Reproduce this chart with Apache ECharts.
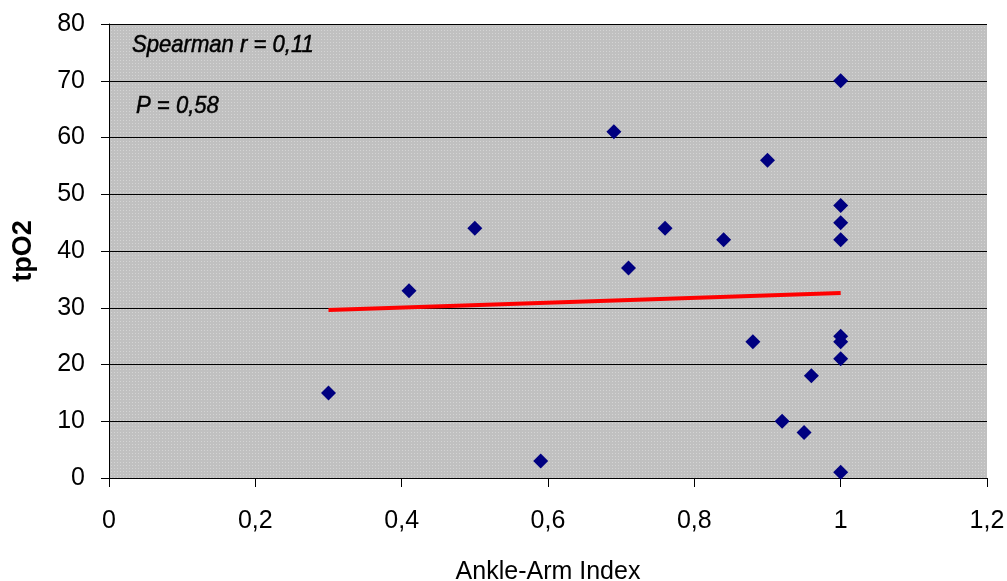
<!DOCTYPE html>
<html>
<head>
<meta charset="utf-8">
<script src="https://cdn.jsdelivr.net/npm/echarts@6/dist/echarts.min.js"></script>
<style>
  html, body { margin: 0; padding: 0; background: #fff; }
  #main { width: 1007px; height: 581px; }
</style>
</head>
<body>
<div id="main"></div>
<script>
// ankle-arm index vs tpO2
var aai = [0.3, 0.41, 0.5, 0.59, 0.69, 0.71, 0.76, 0.84, 0.88, 0.9, 0.92, 0.95, 0.96,
           1.0, 1.0, 1.0, 1.0, 1.0, 1.0, 1.0, 1.0];
var tpo2 = [15, 33, 44, 3, 61, 37, 44, 42, 24, 56, 10, 8, 18,
            70, 48, 45, 42, 25, 24, 21, 1];
// linear trend line end points
var trendX = [0.3, 1.0];
var trendY = [29.6, 32.6];

var points = aai.map(function (x, i) { return [x, tpo2[i]]; });
var trend = trendX.map(function (x, i) { return [x, trendY[i]]; });

// dotted excel-like background
var pat = document.createElement('canvas');
pat.width = 3; pat.height = 3;
var ctx = pat.getContext('2d');
ctx.fillStyle = '#c0c0c0';
ctx.fillRect(0, 0, 3, 3);
ctx.fillStyle = '#d4d4d4';
ctx.fillRect(0, 0, 1, 1);

var font = '"Liberation Sans", Arial, sans-serif';
var myChart = echarts.init(document.getElementById('main'));
myChart.setOption({
    animation: false,
    grid: {
        left: 109, right: 20, top: 24, bottom: 103,
        outerBoundsMode: 'none',
        containLabel: false,
        show: true,
        backgroundColor: { image: pat, repeat: 'repeat' },
        borderWidth: 0
    },
    xAxis: {
        type: 'value',
        min: 0, max: 1.2, interval: 0.2,
        name: 'Ankle-Arm Index',
        nameLocation: 'middle',
        nameGap: 82,
        nameTextStyle: { fontFamily: font, fontSize: 25, color: '#000' },
        axisLine: { show: true, lineStyle: { color: '#000', width: 1 } },
        axisTick: { show: true, inside: false, length: 9, lineStyle: { color: '#000' } },
        axisLabel: {
            margin: 31, fontFamily: font, fontSize: 25, color: '#000',
            formatter: function (v) { return String(+v.toFixed(1)).replace('.', ','); }
        },
        splitLine: { show: false }
    },
    yAxis: {
        type: 'value',
        min: 0, max: 80, interval: 10,
        name: 'tpO2',
        nameLocation: 'middle',
        nameGap: 72,
        nameTextStyle: { fontFamily: font, fontSize: 27, fontWeight: 'bold', color: '#000' },
        axisLine: { show: true, lineStyle: { color: '#000', width: 1 } },
        axisTick: { show: true, inside: false, length: 8, lineStyle: { color: '#000' } },
        axisLabel: { margin: 24, fontFamily: font, fontSize: 25, color: '#000' },
        splitLine: { show: true, lineStyle: { color: '#000', width: 1 } }
    },
    graphic: [
        { type: 'text', x: 132, y: 33, scaleX: 0.92,
          style: { text: 'Spearman r = 0,11', font: 'italic 24px ' + font, fill: '#000',
                   stroke: '#000', lineWidth: 0.5 } },
        { type: 'text', x: 136, y: 94, scaleX: 0.92,
          style: { text: 'P = 0,58', font: 'italic 24px ' + font, fill: '#000',
                   stroke: '#000', lineWidth: 0.5 } }
    ],
    series: [
        {
            type: 'line',
            data: trend,
            symbol: 'none',
            lineStyle: { color: '#ff0000', width: 4 },
            z: 2
        },
        {
            type: 'scatter',
            data: points,
            symbol: 'diamond',
            symbolSize: 15,
            itemStyle: { color: '#000080', opacity: 1 },
            z: 3
        }
    ]
});
</script>
</body>
</html>
